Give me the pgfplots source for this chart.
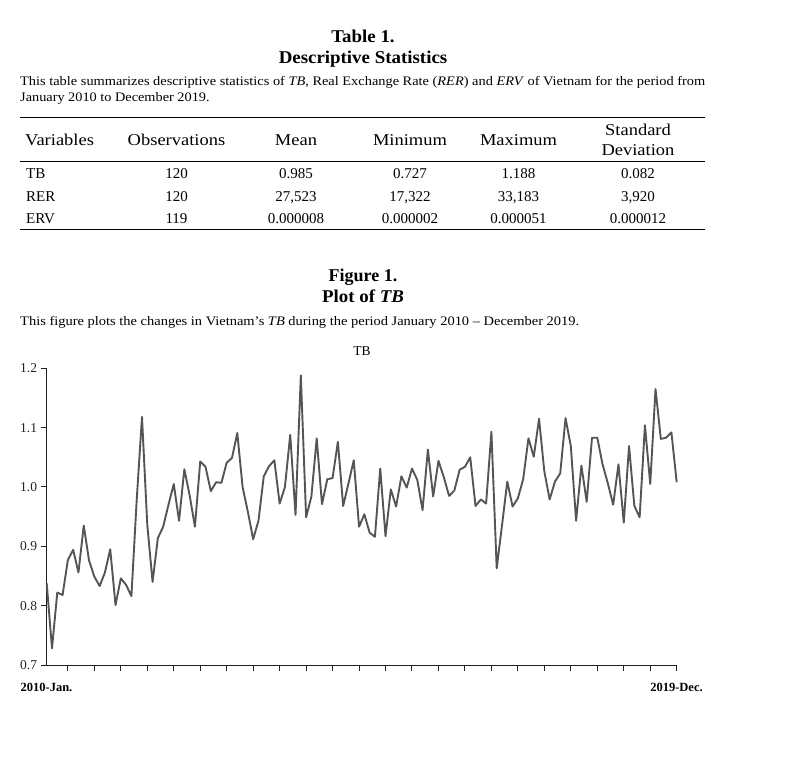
\documentclass[border=0pt]{standalone}
\usepackage{fontspec}
\setmainfont{Liberation Serif}
\usepackage{graphicx}
\usepackage{pgfplots}
\pgfplotsset{compat=1.18}
\definecolor{lineg}{HTML}{555555}
\definecolor{axg}{HTML}{222222}
\newcommand{\hx}[1]{\scalebox{1.12}[1]{#1}}
\newcommand{\bx}[1]{\scalebox{1.05}[1]{#1}}
\pgfplotstableread{
i v
0 0.838
1 0.728
2 0.822
3 0.818
4 0.877
5 0.894
6 0.856
7 0.935
8 0.876
9 0.849
10 0.833
11 0.856
12 0.895
13 0.801
14 0.846
15 0.835
16 0.816
17 0.978
18 1.118
19 0.936
20 0.840
21 0.914
22 0.933
23 0.970
24 1.005
25 0.943
26 1.030
27 0.986
28 0.933
29 1.043
30 1.034
31 0.993
32 1.008
33 1.007
34 1.041
35 1.049
36 1.091
37 1.000
38 0.958
39 0.912
40 0.943
41 1.018
42 1.035
43 1.045
44 0.972
45 1.000
46 1.088
47 0.953
48 1.188
49 0.949
50 0.984
51 1.082
52 0.971
53 1.013
54 1.015
55 1.076
56 0.968
57 1.006
58 1.045
59 0.933
60 0.954
61 0.923
62 0.916
63 1.031
64 0.917
65 0.996
66 0.967
67 1.018
68 0.999
69 1.031
70 1.012
71 0.961
72 1.063
73 0.984
74 1.044
75 1.017
76 0.985
77 0.994
78 1.029
79 1.034
80 1.050
81 0.968
82 0.979
83 0.972
84 1.093
85 0.863
86 0.935
87 1.009
88 0.967
89 0.981
90 1.013
91 1.082
92 1.051
93 1.115
94 1.026
95 0.979
96 1.009
97 1.023
98 1.116
99 1.069
100 0.943
101 1.036
102 0.975
103 1.083
104 1.083
105 1.038
106 1.006
107 0.970
108 1.038
109 0.940
110 1.069
111 0.968
112 0.949
113 1.104
114 1.005
115 1.165
116 1.081
117 1.083
118 1.092
119 1.008
}\tbdata
\begin{document}
\begin{tikzpicture}[x=1pt,y=1pt]
\path[use as bounding box] (0,0) rectangle (793,-783);
% ---------- Table ----------
\node[anchor=base,font=\fontsize{18}{21}\selectfont\bfseries] at (363,-42.5) {\bx{Table 1.}};
\node[anchor=base,font=\fontsize{18}{21}\selectfont\bfseries] at (363,-64) {\bx{Descriptive Statistics}};
\node[anchor=base west,inner sep=0pt,font=\fontsize{13}{15}\selectfont] at (20,-86) {\resizebox{685pt}{\height}{This table summarizes descriptive statistics of \textit{TB}, Real Exchange Rate (\textit{RER}) and \textit{ERV} of Vietnam for the period from}};
\node[anchor=base west,inner sep=0pt,font=\fontsize{13}{15}\selectfont] at (20,-101.5) {\scalebox{1.10}[1]{January 2010 to December 2019.}};
\draw[line width=1.2pt] (20,-117.3) -- (705,-117.3);
\draw[line width=1pt] (20,-161.5) -- (705,-161.5);
\draw[line width=1.2pt] (20,-229.3) -- (705,-229.3);
\begin{scope}[every node/.style={anchor=base,inner sep=0pt,font=\fontsize{16.5}{19}\selectfont}]
\node[anchor=base west] at (25,-145.5) {\hx{Variables}};
\node at (176.5,-145.5) {\hx{Observations}};
\node at (296,-145.5) {\hx{Mean}};
\node at (410,-145.5) {\hx{Minimum}};
\node at (518.5,-145.5) {\hx{Maximum}};
\node at (638,-135.5) {\hx{Standard}};
\node at (638,-156) {\hx{Deviation}};
\end{scope}
\begin{scope}[every node/.style={anchor=base,inner sep=0pt,font=\fontsize{15}{17}\selectfont}]
\node[anchor=base west] at (26,-179) {TB};
\node at (176.5,-179) {120};
\node at (296,-179) {0.985};
\node at (410,-179) {0.727};
\node at (518.5,-179) {1.188};
\node at (638,-179) {0.082};
\node[anchor=base west] at (26,-201.5) {RER};
\node at (176.5,-201.5) {120};
\node at (296,-201.5) {27,523};
\node at (410,-201.5) {17,322};
\node at (518.5,-201.5) {33,183};
\node at (638,-201.5) {3,920};
\node[anchor=base west] at (26,-224) {ERV};
\node at (176.5,-224) {119};
\node at (296,-224) {0.000008};
\node at (410,-224) {0.000002};
\node at (518.5,-224) {0.000051};
\node at (638,-224) {0.000012};
\end{scope}
% ---------- Figure ----------
\node[anchor=base,font=\fontsize{18}{21}\selectfont\bfseries] at (363,-282) {Figure 1.};
\node[anchor=base,font=\fontsize{18}{21}\selectfont\bfseries] at (363,-303) {\bx{Plot of \textit{TB}}};
\node[anchor=base west,inner sep=0pt,font=\fontsize{13}{15}\selectfont] at (20,-325.5) {\resizebox{559pt}{\height}{This figure plots the changes in Vietnam's \textit{TB} during the period January 2010 -- December 2019.}};
\node[anchor=base,inner sep=0pt,font=\fontsize{13.5}{16}\selectfont] at (362,-356) {TB};
\begin{axis}[
  scale only axis,
  width=630pt, height=296.7pt,
  at={(46.7pt,-665pt)}, anchor=south west,
  xmin=0, xmax=119, ymin=0.7, ymax=1.2,
  axis lines*=left,
  axis line style={line width=1pt, color=axg, -},
  xtick={4,9,...,119}, xticklabels={},
  ytick={0.7,0.8,0.9,1.0,1.1,1.2},
  tick align=outside,
  major tick length=5.5pt,
  tick style={line width=1pt, color=axg},
  yticklabel style={font=\fontsize{13.5}{16}\selectfont, color=axg, inner sep=0pt, xshift=-4pt},
  /pgf/number format/.cd, fixed, fixed zerofill, precision=1, assume math mode=true,
  /pgfplots/.cd,
  clip=false,
]
\addplot[color=lineg, line width=1.9pt, line join=round] table[x=i,y=v] {\tbdata};
\end{axis}
\node[anchor=base,inner sep=0pt,font=\fontsize{12.5}{14}\selectfont\bfseries] at (46.5,-691) {2010-Jan.};
\node[anchor=base,inner sep=0pt,font=\fontsize{12.5}{14}\selectfont\bfseries] at (676.5,-691) {2019-Dec.};
\end{tikzpicture}
\end{document}
